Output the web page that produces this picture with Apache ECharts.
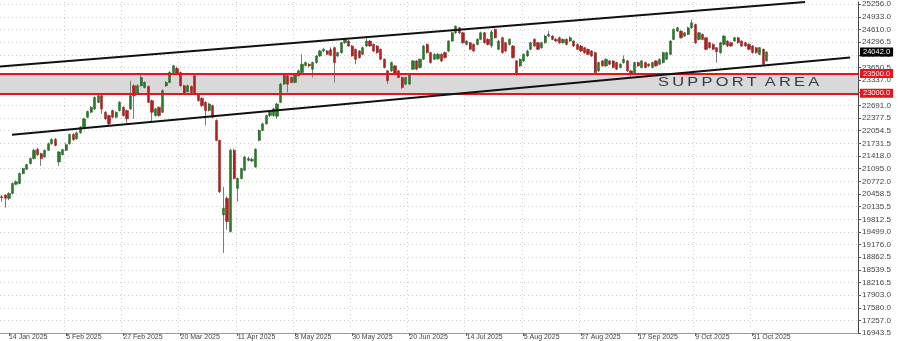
<!DOCTYPE html>
<html>
<head>
<meta charset="utf-8">
<script src="https://cdn.jsdelivr.net/npm/echarts@6/dist/echarts.min.js"></script>
<style>html,body{margin:0;padding:0;background:#fff;}#chart{width:900px;height:341px;}</style>
</head>
<body>
<div id="chart"></div>
<script>
// ---- data ----
const xTickLabels = ["14 Jan 2025","5 Feb 2025","27 Feb 2025","20 Mar 2025","11 Apr 2025","8 May 2025","30 May 2025","20 Jun 2025","14 Jul 2025","5 Aug 2025","27 Aug 2025","17 Sep 2025","9 Oct 2025","31 Oct 2025"];
const yTickLabels = ["25256.0","24933.0","24610.0","24296.5","23973.5","23650.5","23337.0","23014.0","22691.0","22377.5","22054.5","21731.5","21418.0","21095.0","20772.0","20458.5","20135.5","19812.5","19499.0","19176.0","18862.5","18539.5","18216.5","17903.0","17580.0","17257.0","16943.5"];

const opens = [
20387,20429,20346,20471,20700,20722,20973,21082,21224,21350,
21584,21475,21391,21559,21726,21835,21266,21450,21559,21726,
21960,21850,22000,22144,22395,22521,22605,22772,22939,22521,
22437,22563,22395,22563,22646,22563,22605,23190,22981,23190,
23148,23170,22814,22437,22646,22521,23190,23274,23525,23630,
23525,23190,23040,23170,23441,22981,22873,22772,22563,22688,
22312,21810,19927,20346,19509,21559,20596,20848,21057,21308,
21290,21140,21810,22061,22228,22437,22437,22420,22772,23232,
23441,23399,23274,23441,
23525,23700,23734,23609,23776,23943,24069,24069,24100,24152,
23943,24027,24278,24320,24194,24111,24069,23985,24194,
24320,24236,24194,24111,23860,23567,
23567,23692,23567,23399,23232,23232,23609,23818,23650,23860,
24236,24027,23860,23870,23985,24027,24069,24320,24529,24654,
24529,24236,24278,24236,24236,24362,24529,24362,24200,24613,
24111,24403,
24278,24236,24194,23818,23692,23818,23943,24111,24362,24278,
24152,24278,24445,24445,24362,
24403,24278,24362,24320,24320,24236,24194,24152,24111,24069,
24027,23567,23818,23692,23818,23818,23776,23650,23776,23818,
23567,23483,23776,23650,23776,23734,23650,23818,23734,23776,
23860,23985,24362,24571,24571,24445,24487,24654,24738,24362,
24487,24403,24278,24236,24152,24027,24236,24320,24278,24320,
24403,24320,24278,24236,24194,24152,23985,24111,23820];
const highs = [
20429,20446,20500,20740,20800,21000,21120,21220,21380,21600,
21620,21500,21580,21760,21860,21870,21540,21600,21740,21980,
21990,22030,22170,22380,22560,22680,22920,22960,22960,22550,
22460,22590,22540,22800,22670,22590,23316,23230,23230,23466,
23300,23200,22840,22630,22670,23100,23310,23560,23720,23680,
23550,23210,23220,23200,23470,23000,22900,22800,22760,22710,
22340,21830,20638,20400,21600,21600,20870,21120,21420,21400,
21370,21610,22090,22260,22460,22560,22630,22760,23260,23510,
23470,23430,23510,23600,
23985,23800,23760,23800,23970,24100,24150,24100,24160,24180,
24050,24300,24400,24350,24220,24130,24090,24180,24445,
24350,24260,24220,24130,23880,23590,
23800,23720,23590,23420,23420,23510,23840,23840,23880,24220,
24260,24050,24010,24020,24010,24050,24340,24560,24713,24680,
24550,24350,24300,24260,24390,24560,24550,24390,24600,24640,
24350,24430,
24300,24390,24220,23840,23880,24010,24100,24300,24390,24300,
24300,24480,24571,24470,24400,
24430,24390,24390,24445,24340,24260,24220,24170,24130,24090,
24050,23800,23840,23880,23840,23840,23800,23760,23960,23840,
23590,23800,23800,23840,23800,23760,23800,23840,23880,24050,
24050,24340,24640,24680,24590,24550,24680,24864,24760,24550,
24510,24420,24300,24260,24170,24300,24470,24340,24300,24430,
24430,24340,24300,24260,24220,24170,24170,24130,24060];
const lows = [
20262,20111,20300,20450,20680,20700,20950,21060,21200,21330,
21420,21165,21370,21540,21700,21660,21165,21430,21540,21700,
21800,21830,21980,22120,22370,22500,22580,22750,22480,22330,
22186,22370,22370,22540,22410,22228,22580,22354,22960,23170,
23120,22750,22270,22410,22410,22500,23160,23250,23500,23460,
23170,22960,23020,23000,22960,22790,22660,22186,22540,22370,
21790,20480,18965,19551,19480,20820,20262,20820,21030,21280,
21260,21120,21790,22040,22210,22400,22410,22354,22750,23210,
23023,23250,23250,23420,
23500,23680,23650,23399,23750,23920,24040,23960,23940,23274,
23920,24000,24250,24170,23920,23734,23880,23960,24170,
24170,24040,24000,23840,23630,23232,
23540,23460,23380,23107,23200,23210,23590,23590,23630,23840,
24000,23750,23840,23850,23790,23880,24040,24300,24500,24500,
24250,24210,24090,24040,24210,24340,24250,24210,24150,24380,
24090,24000,
24040,24210,23880,23440,23670,23790,23920,24090,24170,24090,
24130,24250,24420,24340,24300,
24250,24250,24210,24300,24170,24090,24040,24000,23960,23920,
23483,23540,23670,23670,23710,23630,23590,23630,23750,23540,
23399,23460,23670,23630,23630,23670,23630,23670,23710,23750,
23840,23960,24340,24550,24380,24420,24470,24630,24250,24340,
24340,24090,24130,24090,23776,24000,24210,24170,24170,24300,
24250,24170,24170,24090,24000,24000,23960,23692,23800];
const closes = [
20362,20346,20471,20722,20764,20973,21098,21199,21350,21559,
21450,21350,21559,21726,21835,21684,21517,21575,21701,21960,
21830,22000,22144,22354,22539,22646,22897,22939,22605,22354,
22228,22395,22521,22772,22437,22354,22939,22939,23190,23399,
23274,22772,22521,22605,22437,23065,23274,23525,23692,23483,
23190,22981,23190,23023,22981,22814,22688,22563,22730,22395,
21810,20513,20095,19760,21559,20848,20848,21098,21391,21350,
21330,21584,22061,22228,22437,22521,22605,22730,23232,23483,
23232,23274,23483,23567,
23734,23776,23692,23776,23943,24069,24111,23985,23960,23776,
24027,24278,24362,24194,23943,23860,23901,24152,24320,
24194,24069,24027,23860,23650,23316,
23776,23483,23399,23148,23399,23483,23818,23609,23860,24194,
24027,23776,23985,23985,23818,23901,24320,24529,24696,24529,
24278,24320,24111,24069,24362,24529,24278,24236,24550,24403,
24320,24027,
24069,24362,23900,23483,23860,23985,24069,24278,24194,24111,
24278,24445,24487,24362,24320,
24278,24362,24236,24403,24194,24111,24069,24027,23985,23943,
23525,23776,23692,23860,23734,23650,23609,23734,23860,23567,
23483,23776,23692,23818,23650,23692,23776,23692,23860,24027,
24027,24320,24613,24654,24403,24529,24654,24780,24278,24529,
24362,24111,24152,24111,24050,24278,24445,24194,24194,24403,
24278,24194,24194,24111,24027,24027,24152,23734,24042];

const supportLow = 23000;
const supportHigh = 23500;
// channel trend lines: [bar index, price]
const upperTrend = [[-0.5, 23678], [224.7, 25306]];
const lowerTrend = [[2.86, 21951], [237.3, 23904]];

// ---- categories: weekday dates, including empty future slots ----
const totalSlots = 240;
const categories = [];
(function () {
  const d = new Date(Date.UTC(2025, 0, 10));
  while (categories.length < totalSlots) {
    const wd = d.getUTCDay();
    if (wd !== 0 && wd !== 6) categories.push(d.toISOString().slice(0, 10));
    d.setUTCDate(d.getUTCDate() + 1);
  }
})();

const labelEvery = 16, labelStart = 2;
function isLabelIdx(i) {
  return i >= labelStart && (i - labelStart) % labelEvery === 0 && (i - labelStart) / labelEvery < xTickLabels.length;
}

const wickData = opens.map((o, i) => [o, closes[i], lows[i], highs[i]]);
const bodyData = opens.map((o, i) => [o, closes[i], Math.min(o, closes[i]), Math.max(o, closes[i])]);
const lastPrice = closes[closes.length - 1];

const FONT = '"Liberation Sans", Arial, sans-serif';
const chart = echarts.init(document.getElementById('chart'), null, { renderer: 'canvas' });
chart.setOption({
  animation: false,
  backgroundColor: '#ffffff',
  grid: { left: 0, right: 42, top: 0, bottom: 7, containLabel: false },
  xAxis: [
    {
      type: 'category', data: categories, boundaryGap: true,
      axisLine: { show: true, onZero: false, lineStyle: { color: '#9a9a9a', width: 1 } },
      axisTick: { show: true, alignWithLabel: true, interval: isLabelIdx, length: 3, lineStyle: { color: '#666' } },
      axisLabel: {
        show: true, interval: isLabelIdx, align: 'left', fontSize: 7, color: '#444', margin: 1, fontFamily: FONT,
        formatter: (v, i) => xTickLabels[(i - labelStart) / labelEvery] || ''
      },
      splitLine: { show: true, showMinLine: false, showMaxLine: false, interval: isLabelIdx, lineStyle: { color: '#cfcfcf', type: [1, 3], width: 1 } }
    },
    {
      type: 'value', min: -0.5, max: totalSlots - 0.5, show: false,
      axisLine: { show: false, onZero: false }, axisTick: { show: false }, axisLabel: { show: false }, splitLine: { show: false }
    }
  ],
  yAxis: {
    type: 'value', position: 'right', min: 16943.5, max: 25306, scale: true,
    axisLine: { show: true, onZero: false, lineStyle: { color: '#444', width: 1 } },
    axisTick: { show: true, customValues: yTickLabels.map(Number), length: 3, lineStyle: { color: '#555' } },
    axisLabel: {
      show: true, customValues: yTickLabels.map(Number), fontSize: 8, color: '#444', margin: 4, fontFamily: FONT,
      formatter: v => v.toFixed(1)
    },
    splitLine: { show: true, customValues: yTickLabels.map(Number), lineStyle: { color: '#cfcfcf', type: [1, 3], width: 1 } }
  },
  graphic: [{
    type: 'text', x: 658, y: 82.5, scaleX: 1.26, z: 100,
    style: {
      text: 'S\u2009U\u2009P\u2009P\u2009O\u2009R\u2009T \u2009A\u2009R\u2009E\u2009A',
      font: '13px ' + FONT, fill: '#343944', verticalAlign: 'middle', align: 'left'
    }
  }],
  series: [
    {
      name: 'wick', type: 'candlestick', data: wickData, barWidth: 1, z: 2,
      itemStyle: { color: '#7d7d7d', color0: '#7d7d7d', borderColor: '#7d7d7d', borderColor0: '#7d7d7d', borderWidth: 1 },
      markArea: {
        silent: true, z: 1,
        itemStyle: { color: '#d9d9d9' },
        data: [[{ yAxis: supportLow }, { yAxis: supportHigh }]]
      }
    },
    {
      name: 'body', type: 'candlestick', data: bodyData, barWidth: 2.7, z: 3,
      itemStyle: { color: '#2a7a2a', color0: '#b3201f', borderColor: '#1f5f1f', borderColor0: '#8f1a19', borderWidth: 0.5 },
      markLine: {
        silent: true, symbol: ['none', 'none'], z: 5,
        lineStyle: { color: '#e8141b', width: 2, type: 'solid' },
        label: {
          show: true, position: 'end', distance: 2, fontSize: 7.5, fontFamily: FONT, color: '#fff',
          backgroundColor: '#e8141b', padding: [1, 3, 0, 3], formatter: p => p.value.toFixed(1)
        },
        data: [
          { yAxis: supportHigh },
          { yAxis: supportLow },
          { yAxis: lastPrice, lineStyle: { width: 0, color: 'rgba(0,0,0,0)' }, label: { backgroundColor: '#000', color: '#fff' } }
        ]
      }
    },
    {
      name: 'upper', type: 'line', xAxisIndex: 1, data: upperTrend, symbol: 'none', z: 6,
      lineStyle: { color: '#111', width: 2 }
    },
    {
      name: 'lower', type: 'line', xAxisIndex: 1, data: lowerTrend, symbol: 'none', z: 6,
      lineStyle: { color: '#111', width: 2 }
    }
  ]
});
</script>
</body>
</html>
